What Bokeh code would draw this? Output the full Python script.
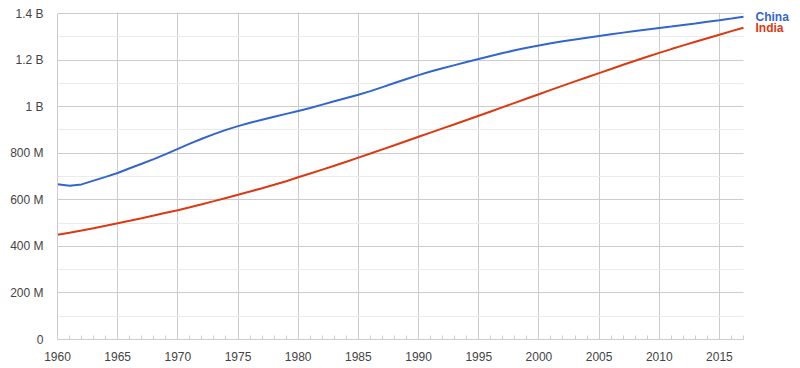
from bokeh.plotting import figure
from bokeh.models import Range1d, SingleIntervalTicker, FixedTicker
from bokeh.core.properties import value
from bokeh.embed import file_html
from bokeh.resources import INLINE

years = list(range(1960, 2018))
# population, millions (World Bank)
china = [667.1, 660.3, 666.0, 682.3, 698.4, 715.2, 735.4, 754.6, 774.5, 796.0,
         818.3, 841.1, 862.0, 881.9, 900.4, 916.4, 930.7, 943.5, 956.2, 969.0,
         981.2, 993.9, 1008.6, 1023.3, 1036.8, 1051.0, 1066.8, 1084.0, 1101.6, 1118.7,
         1135.2, 1150.8, 1165.0, 1178.4, 1191.8, 1204.9, 1217.6, 1230.1, 1241.9, 1252.7,
         1262.6, 1271.9, 1280.4, 1288.4, 1296.1, 1303.7, 1311.0, 1317.9, 1324.7, 1331.3,
         1337.7, 1344.1, 1350.7, 1357.4, 1364.3, 1371.2, 1378.7, 1386.4]
india = [449.5, 458.5, 467.9, 477.9, 488.2, 498.8, 509.6, 520.8, 532.3, 544.0,
         555.2, 567.9, 580.9, 594.3, 608.0, 621.7, 635.6, 649.9, 664.6, 679.7,
         696.8, 712.9, 729.4, 746.2, 763.5, 781.0, 798.8, 816.7, 834.5, 852.5,
         870.5, 888.5, 906.5, 924.5, 942.6, 960.9, 979.3, 997.8, 1016.4, 1035.0,
         1053.5, 1071.9, 1090.2, 1108.4, 1126.1, 1144.1, 1161.9, 1179.7, 1197.1, 1214.2,
         1231.0, 1247.2, 1263.1, 1278.6, 1293.9, 1309.1, 1324.2, 1338.7]
series_names = ["China", "India"]

y_ticks = [0, 200, 400, 600, 800, 1000, 1200, 1400]
y_tick_labels = ["0", "200 M", "400 M", "600 M", "800 M", "1 B", "1.2 B", "1.4 B"]
y_minor = [100, 300, 500, 700, 900, 1100, 1300]

china_color = "#3366cc"
india_color = "#dc3912"
font = "Liberation Sans"

# layout (pixels)
W, H = 800, 368
left, top, bottom = 57, 13, 29
plot_px = 686                      # pixels from first to last year
plot_py = H - top - bottom         # pixels from 0 to top tick
label_px = W - left - plot_px      # space at the right for series names
x0, x1 = years[0], years[-1]
x_end = x1 + label_px * (x1 - x0) / plot_px
y0, y1 = y_ticks[0], y_ticks[-1]
y_end = y1 + top * (y1 - y0) / plot_py

p = figure(width=W, height=H, output_backend="svg", toolbar_location=None,
           x_range=Range1d(x0, x_end), y_range=Range1d(y0, y_end))
p.min_border_left = left
p.min_border_right = 0
p.min_border_top = 0
p.min_border_bottom = bottom
p.outline_line_color = None
p.background_fill_color = "white"
p.border_fill_color = "white"

p.xaxis.ticker = SingleIntervalTicker(interval=5, num_minor_ticks=5)
p.xaxis.bounds = (x0, x1)
p.yaxis.ticker = FixedTicker(ticks=y_ticks, minor_ticks=y_minor)
p.yaxis.bounds = (y0, y1)
p.yaxis.major_label_overrides = {t: l for t, l in zip(y_ticks, y_tick_labels)}

for ax in (p.xaxis, p.yaxis):
    ax.axis_line_color = "#cccccc"
    ax.major_tick_line_color = None
    ax.major_label_text_font = font
    ax.major_label_text_font_size = "12px"
    ax.major_label_text_color = "#444444"
p.yaxis.minor_tick_line_color = None
p.yaxis.major_label_standoff = 8
p.xaxis.major_label_standoff = 6
p.xaxis.minor_tick_line_color = "#cccccc"
p.xaxis.minor_tick_in = 4
p.xaxis.minor_tick_out = 0

p.xgrid.grid_line_color = "#cccccc"
p.ygrid.grid_line_color = "#cccccc"
p.ygrid.minor_grid_line_color = "#ebebeb"

# blank the label area right of the last year and above the top tick
p.quad(left=[x1, x0 - 10], right=[x_end + 10, x_end + 10],
       bottom=[y0 - 100, y1 + 4], top=[y_end + 100, y_end + 100],
       fill_color="white", line_color=None)

p.line(years, china, line_color=china_color, line_width=2)
p.line(years, india, line_color=india_color, line_width=2)

p.text(x=[x1, x1], y=[china[-1], india[-1]], text=series_names,
       x_offset=12, text_font=value(font), text_font_size="12px",
       text_font_style="bold", text_color=[china_color, india_color],
       text_baseline="middle", text_align="left")

open("out.html", "w").write(file_html(p, INLINE))
